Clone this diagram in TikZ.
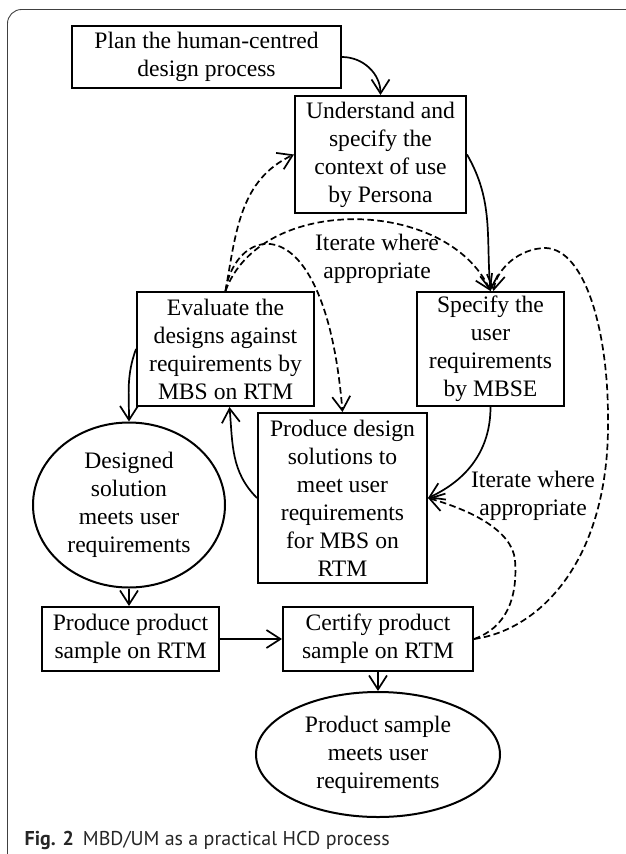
\documentclass[tikz,border=0pt]{standalone}
\usepackage{fontspec}
\setmainfont{Liberation Serif}
\newfontfamily\capfont{PT Sans}
\usetikzlibrary{arrows.meta,shapes.geometric}
\begin{document}
\begin{tikzpicture}[x=1pt,y=-1pt,
  box/.style={draw, line width=2pt, rectangle, align=center, inner sep=0pt,
    font=\fontsize{23.6}{28}\selectfont},
  ell/.style={box, ellipse},
  arr/.style={line width=1.7pt, -{Straight Barb[length=14pt,width=18pt]}},
  darr/.style={arr, dash pattern=on 6.5pt off 3.5pt},
  lab/.style={align=center, inner sep=0pt, font=\fontsize{23.6}{28}\selectfont},
  frame/.style={line width=0.9pt, black!75, rounded corners=14pt}
]
\useasboundingbox (0,0) rectangle (625,854);
\draw[frame] (7.5,900) -- (7.5,9.5) -- (680,9.5);

\node[box, minimum width=269pt, minimum height=62pt] (plan) at (206.5,57) {Plan the human-centred\\design process};
\node[box, minimum width=171pt, minimum height=117pt] (und) at (380.5,154.5) {Understand and\\specify the\\context of use\\by Persona};
\node[box, minimum width=177pt, minimum height=114pt] (eval) at (225.5,349) {Evaluate the\\designs against\\requirements by\\MBS on RTM};
\node[box, minimum width=147pt, minimum height=114pt] (spec) at (490.5,349) {Specify the\\user\\requirements\\by MBSE};
\node[box, minimum width=169pt, minimum height=170pt] (prodd) at (342.5,498) {Produce design\\solutions to\\meet user\\requirements\\for MBS on\\RTM};
\node[ell, minimum width=192pt, minimum height=165pt] (des) at (129,505) {Designed\\solution\\meets user\\requirements};
\node[box, minimum width=177pt, minimum height=64pt] (pprod) at (130.5,639) {Produce product\\sample on RTM};
\node[box, minimum width=190pt, minimum height=64pt] (cert) at (378,639) {Certify product\\sample on RTM};
\node[ell, minimum width=244pt, minimum height=125pt] (psam) at (378,754.5) {Product sample\\meets user\\requirements};

\node[lab] (lab1) at (377,259) {Iterate where\\appropriate};
\node[lab] (lab2) at (533,496) {Iterate where\\appropriate};

\node[anchor=base west, inner sep=0pt, font=\capfont\fontsize{20}{23}\selectfont, text=black!85] (cap) at (24.5,845) {\textbf{Fig. 2}\hspace{0.45em}MBD/UM as a practical HCD process};

% solid connectors
\draw[arr] (plan.east) to[out=0,in=90] (und.north);
\draw[arr] (und.east) to[out=-60,in=95] (spec.north);
\draw[arr] (spec.south) to[out=-90,in=25] (prodd.east);
\draw[arr] (prodd.west) to[out=135,in=-85] ([xshift=4pt]eval.south);
\draw[arr] (eval.west) to[out=-110,in=90] (des.north);
\draw[arr] (des.south) -- (des.south |- pprod.north);
\draw[arr] (pprod.east) -- (cert.west);
\draw[arr] (cert.south) -- (psam.north);

% dashed connectors
\draw[darr] (eval.north) to[out=80,in=205] (und.west);
\draw[darr] (eval.north) to[out=70,in=115] (spec.north);
\draw[darr] (eval.north) .. controls (235,225) and (325,200) .. (prodd.north);
\draw[darr] (cert.east) .. controls (540,630) and (610,560) .. (608,418)
  .. controls (608,330) and (585,250) .. (546,248)
  .. controls (520,248) and (497,268) .. ([xshift=3pt]spec.north);
\draw[darr] (cert.east) .. controls (505,628) and (518,600) .. (515,560)
  .. controls (512,530) and (470,510) .. (prodd.east);
\end{tikzpicture}
\end{document}
